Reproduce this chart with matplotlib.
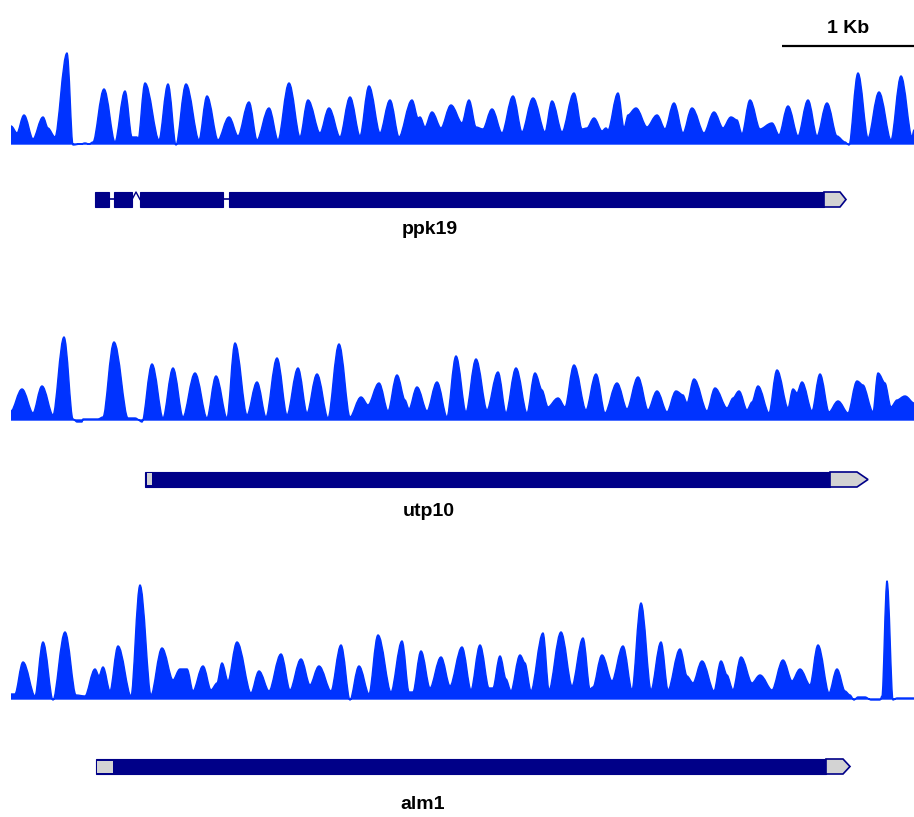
import matplotlib
matplotlib.use('Agg')
import matplotlib.pyplot as plt
from matplotlib.patches import Rectangle, Polygon, PathPatch
from matplotlib.path import Path

# ---------------- data ----------------
# coverage profiles: x = genomic bin (1 Kb = 132 bins), y = coverage (a.u.)
t1_x = [0, 6, 13, 22, 32, 37, 44, 56, 62, 70, 74, 78, 82, 93, 104, 114, 121, 126, 127, 134,
        148, 157, 165, 175, 188, 196, 207, 218, 227, 238, 246, 258, 267, 278, 289, 297, 309, 318, 329, 339,
        349, 358, 369, 379, 388, 401, 407, 409, 414, 421, 430, 440, 451, 458, 465, 472, 481, 491, 502, 511,
        522, 534, 541, 551, 563, 571, 576, 583, 591, 595, 597, 607, 613, 617, 625, 636, 646, 654, 663, 672,
        681, 693, 703, 712, 720, 726, 731, 739, 749, 761, 768, 777, 787, 797, 806, 816, 826, 834, 838, 847,
        857, 868, 880, 890, 901, 903]
t1_y = [18, 11, 29, 5, 27, 16, 7, 91, -1, 0, 1, 0, 2, 55, 2, 53, 7, 7, 4, 61,
        4, 60, -1, 60, 4, 48, 4, 27, 8, 42, 4, 36, 4, 61, 7, 44, 11, 36, 7, 47,
        8, 58, 11, 44, 7, 44, 26, 27, 17, 32, 16, 39, 21, 44, 17, 15, 35, 11, 48, 12,
        46, 12, 43, 12, 51, 15, 16, 26, 13, 16, 14, 51, 16, 29, 36, 17, 29, 15, 41, 11,
        36, 11, 32, 16, 27, 24, 10, 44, 15, 21, 9, 38, 8, 44, 8, 41, 8, 2, -1, 71,
        6, 52, 4, 68, 7, 14]

t2_x = [0, 11, 22, 31, 42, 53, 62, 66, 71, 72, 87, 92, 103, 117, 124, 131, 141, 152, 162, 172,
        184, 196, 205, 216, 224, 236, 246, 255, 266, 276, 287, 296, 306, 317, 328, 339, 350, 357, 368, 377,
        386, 394, 398, 406, 416, 426, 436, 445, 455, 465, 476, 487, 495, 505, 516, 524, 531, 537, 547, 554,
        563, 575, 585, 594, 606, 616, 627, 637, 646, 656, 665, 672, 676, 683, 696, 704, 716, 722, 728, 736,
        741, 747, 758, 766, 777, 782, 786, 791, 801, 809, 818, 827, 837, 846, 852, 862, 867, 874, 880, 886,
        894, 903]
t2_y = [9, 31, 7, 34, 5, 83, 1, -2, -2, 1, 1, 3, 78, 2, 2, -2, 56, 2, 52, 3,
        47, 2, 44, 2, 77, 5, 38, 3, 62, 5, 52, 7, 46, 2, 76, 3, 23, 15, 37, 9,
        45, 20, 11, 33, 9, 38, 3, 64, 8, 61, 10, 48, 7, 52, 7, 47, 30, 13, 22, 13,
        55, 10, 46, 7, 37, 11, 43, 10, 29, 8, 29, 25, 17, 41, 9, 32, 12, 22, 29, 10,
        18, 34, 7, 50, 12, 31, 27, 38, 9, 46, 8, 19, 7, 39, 35, 8, 47, 37, 13, 20,
        24, 17]

t3_x = [0, 4, 12, 24, 32, 42, 54, 65, 74, 84, 88, 92, 99, 107, 120, 129, 140, 151, 162, 169,
        176, 182, 192, 200, 206, 211, 217, 226, 240, 248, 258, 270, 279, 290, 299, 308, 320, 330, 339, 348,
        358, 367, 380, 391, 398, 402, 410, 419, 430, 439, 451, 460, 469, 478, 482, 489, 495, 500, 509, 514,
        520, 532, 538, 550, 561, 572, 579, 582, 591, 601, 612, 621, 630, 640, 650, 657, 669, 676, 682, 691,
        703, 710, 716, 722, 730, 741, 749, 761, 772, 781, 789, 799, 807, 818, 826, 834, 839, 843, 847, 854,
        860, 869, 871, 876, 882, 886, 903]
t3_y = [5, 5, 37, 3, 57, -1, 67, 4, 3, 30, 23, 32, 8, 53, 3, 114, 4, 51, 19, 30,
        30, 8, 33, 9, 16, 36, 18, 57, 6, 28, 8, 45, 9, 40, 14, 33, 8, 54, -1, 33,
        5, 64, 7, 58, 7, 7, 48, 11, 42, 13, 52, 9, 54, 11, 11, 43, 20, 8, 44, 36,
        8, 66, 9, 67, 13, 61, 10, 12, 44, 18, 53, 9, 96, 9, 57, 9, 50, 23, 16, 38,
        8, 38, 24, 9, 42, 16, 24, 9, 39, 18, 30, 14, 54, 6, 30, 8, 4, -1, 2, 2,
        -1, -1, 3, 118, -1, 1, 1]

# gene models (same bin coordinates)
gene_names = ['ppk19', 'utp10', 'alm1']
exon_starts = [[84, 103, 129, 218], [134], [85]]
exon_ends = [[98, 121, 212, 813], [819], [815]]
intron_styles = [['line', 'caret', 'line'], [], []]
utr5_starts = [84, 136, 86]
utr5_ends = [84, 141, 102]
utr3_ends = [829, 846, 832]
gene_tips = [835, 857, 839]

scale_kb_bins = 132
scale_label = '1 Kb'

# ---------------- style / layout ----------------
W, H = 914, 817
COV = '#0033FF'
NAVY = '#000088'
UTRC = '#D3D3D3'
FONT = dict(family=['Liberation Sans', 'DejaVu Sans'], fontweight='bold', fontsize=14)

baselines_px = [144, 420, 699]
gene_boxes = [(-63, -48), (-67, -52), (-75, -60)]
label_pos = [(419, -90), (418, -96), (412, -110)]
YL, YU = -116, 125
XL, XR = 0, 903
PEAK_HANDLE, DIP_HANDLE = 0.38, 0.30

fig = plt.figure(figsize=(W / 100, H / 100), dpi=100)
fig.patch.set_facecolor('white')


def smooth_area_path(xs, ys):
    """Area under the profile; each segment drawn as a cubic Bezier with
    flat tangents at the data vertices (rounded peaks and valleys)."""
    n = len(xs)
    hand = []
    for k in range(n):
        left = ys[k - 1] if k > 0 else ys[k]
        right = ys[k + 1] if k < n - 1 else ys[k]
        hand.append(PEAK_HANDLE if ys[k] >= max(left, right) else DIP_HANDLE)
    verts = [(xs[0], 0), (xs[0], ys[0])]
    codes = [Path.MOVETO, Path.LINETO]
    for k in range(n - 1):
        x0, y0, x1, y1 = xs[k], ys[k], xs[k + 1], ys[k + 1]
        d = x1 - x0
        verts += [(x0 + d * hand[k], y0), (x1 - d * hand[k + 1], y1), (x1, y1)]
        codes += [Path.CURVE4] * 3
    verts += [(xs[-1], 0), (xs[0], 0)]
    codes += [Path.LINETO, Path.CLOSEPOLY]
    return Path(verts, codes)


tracks = [(t1_x, t1_y), (t2_x, t2_y), (t3_x, t3_y)]
axes = []
for i, (xs, ys) in enumerate(tracks):
    base = baselines_px[i]
    bottom = 1 - (base - YL) / H
    height = (YU - YL) / H
    ax = fig.add_axes([11 / W, bottom, 903 / W, height])
    ax.set_xlim(XL, XR)
    ax.set_ylim(YL, YU)
    ax.axis('off')
    axes.append(ax)

    ax.add_patch(PathPatch(smooth_area_path(xs, ys), facecolor=COV,
                           edgecolor=COV, lw=1.0, joinstyle='round'))

    # gene model
    y0, y1 = gene_boxes[i]
    ym = (y0 + y1) / 2
    st, en = exon_starts[i], exon_ends[i]
    for s, e in zip(st, en):
        ax.add_patch(Rectangle((s, y0), e - s, y1 - y0, facecolor=NAVY,
                               edgecolor=NAVY, lw=0.8))
    for k, style in enumerate(intron_styles[i]):
        a, b = en[k], st[k + 1]
        if style == 'line':
            ax.plot([a, b], [ym + 1, ym + 1], color=NAVY, lw=1.2)
        else:
            ax.plot([a, (a + b) / 2, b], [ym, y1, ym], color=NAVY, lw=1.0)
    # 5' UTR
    if utr5_ends[i] > utr5_starts[i]:
        ax.add_patch(Rectangle((utr5_starts[i], y0 + 1.5), utr5_ends[i] - utr5_starts[i],
                               y1 - y0 - 3, facecolor=UTRC, edgecolor='none'))
    # 3' UTR with arrow
    ce = en[-1]
    poly = [(ce, y0), (utr3_ends[i], y0), (gene_tips[i], ym),
            (utr3_ends[i], y1), (ce, y1)]
    ax.add_patch(Polygon(poly, closed=True, facecolor=UTRC, edgecolor=NAVY, lw=1.2))

    lx, ly = label_pos[i]
    ax.text(lx, ly, gene_names[i], ha='center', va='baseline', **FONT)

# scale bar
ax0 = axes[0]
ax0.plot([XR - scale_kb_bins, XR], [98.5, 98.5], color='black', lw=1.6,
         solid_capstyle='butt', clip_on=False)
ax0.text(XR - scale_kb_bins / 2, 111, scale_label, ha='center', va='baseline', **FONT)

fig.savefig('out.png', dpi=100, facecolor='white')
